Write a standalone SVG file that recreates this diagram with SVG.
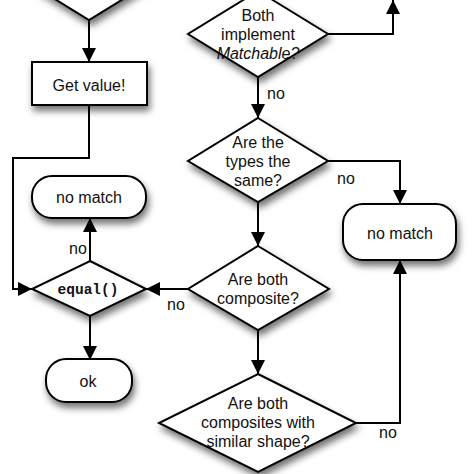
<svg xmlns="http://www.w3.org/2000/svg" width="474" height="474" viewBox="0 0 474 474">
<defs>
<filter id="sh" x="-30%" y="-30%" width="160%" height="170%">
<feDropShadow dx="2" dy="5" stdDeviation="3.5" flood-color="#000" flood-opacity="0.55"/>
</filter>
<marker id="ah" viewBox="0 0 10 10" refX="10" refY="5" markerWidth="14" markerHeight="14" markerUnits="userSpaceOnUse" orient="auto">
<path d="M0,0 L10,5 L0,10 Z" fill="#000"/>
</marker>
<style>
.n{fill:#fff;stroke:#000;stroke-width:2;filter:url(#sh)}
.t{font-family:"Liberation Sans",Arial,sans-serif;font-size:16px;fill:#111;text-anchor:middle}
.m{font-family:"Liberation Mono","Courier New",monospace;font-size:14.5px;font-weight:bold;fill:#111;text-anchor:middle}
.c{fill:none;stroke:#000;stroke-width:2;marker-end:url(#ah)}
</style>
</defs>
<rect width="474" height="474" fill="#fff"/>
<g id="connectors">
<path class="c" d="M89,20 V62"/>
<path class="c" d="M89,105 V158 H13 V289 H32"/>
<path class="c" d="M90,261 V218"/>
<path class="c" d="M90,316 V360"/>
<path class="c" d="M328,34 H393 V0"/>
<path class="c" d="M258,77 V118"/>
<path class="c" d="M328,161 H400 V204"/>
<path class="c" d="M258,202 V246"/>
<path class="c" d="M188,289 H146"/>
<path class="c" d="M258,330 V374"/>
<path class="c" d="M356,423 H400 V260"/>
<text class="t" x="78" y="254">no</text>
<text class="t" x="276" y="99">no</text>
<text class="t" x="346" y="184">no</text>
<text class="t" x="176" y="310">no</text>
<text class="t" x="388" y="438">no</text>
</g>
<g id="topbox"><rect class="n" x="348" y="-40" width="90" height="39"/></g>
<g id="topdiamond"><polygon class="n" points="89,-66 159,-23 89,20 19,-23"/></g>
<g id="getvalue">
<rect class="n" x="32" y="62" width="115" height="43"/>
<text class="t" x="89" y="91">Get value!</text>
</g>
<g id="nomatch1">
<rect class="n" x="32" y="176" width="114" height="42" rx="20" ry="20"/>
<text class="t" x="89" y="203">no match</text>
</g>
<g id="equal">
<polygon class="n" points="90,261 146,289 90,316 32,289"/>
<text class="m" x="88" y="294">equal()</text>
</g>
<g id="ok">
<rect class="n" x="46" y="359" width="86" height="43" rx="20" ry="20"/>
<text class="t" x="88" y="387">ok</text>
</g>
<g id="matchable">
<polygon class="n" points="258,-9 328,34 258,77 188,34"/>
<text class="t" x="258" y="21">Both</text>
<text class="t" x="258" y="40">implement</text>
<text class="t" x="258" y="59" font-style="italic">Matchable?</text>
</g>
<g id="types">
<polygon class="n" points="258,118 328,161 258,202 188,161"/>
<text class="t" x="258" y="148">Are the</text>
<text class="t" x="258" y="167">types the</text>
<text class="t" x="258" y="186">same?</text>
</g>
<g id="nomatch2">
<rect class="n" x="343" y="204" width="113" height="56" rx="20" ry="20"/>
<text class="t" x="400" y="239">no match</text>
</g>
<g id="composite">
<polygon class="n" points="258,246 329,289 258,330 188,289"/>
<text class="t" x="258" y="285">Are both</text>
<text class="t" x="258" y="304">composite?</text>
</g>
<g id="shape">
<polygon class="n" points="258,374 356,423 258,472 159,423"/>
<text class="t" x="258" y="409">Are both</text>
<text class="t" x="258" y="428">composites with</text>
<text class="t" x="258" y="447">similar shape?</text>
</g>
</svg>
